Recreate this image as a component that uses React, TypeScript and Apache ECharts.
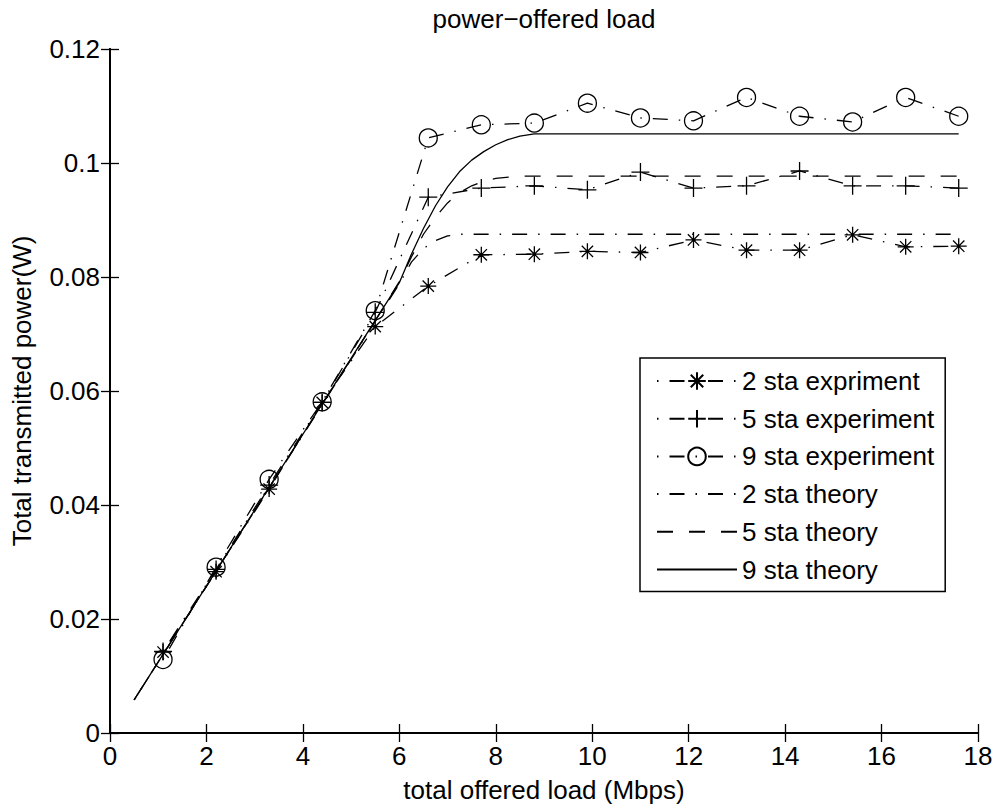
import React, { useEffect, useRef } from 'react';
import * as echarts from 'echarts';

// ---- data ----
const expLoad = [1.1, 2.2, 3.3, 4.4, 5.5, 6.6, 7.7, 8.8, 9.9, 11, 12.1, 13.2, 14.3, 15.4, 16.5, 17.6];
const sta2Exp = [0.0142, 0.0283, 0.0428, 0.058, 0.0713, 0.0784, 0.0839, 0.084, 0.0845, 0.0843, 0.0865, 0.0847, 0.0847, 0.0874, 0.0853, 0.0854];
const sta5Exp = [0.0143, 0.0287, 0.0435, 0.058, 0.0738, 0.094, 0.0956, 0.096, 0.0953, 0.0984, 0.0956, 0.096, 0.0986, 0.096, 0.096, 0.0956];
const sta9Exp = [0.0129, 0.0291, 0.0445, 0.0581, 0.0741, 0.1044, 0.1067, 0.107, 0.1105, 0.1079, 0.1074, 0.1115, 0.1082, 0.1072, 0.1115, 0.1082];

const theory2Load = [0.5, 5.5, 6.0, 6.25, 6.5, 6.75, 7.0, 7.25, 17.6];
const theory2Power = [0.0058, 0.0722, 0.0788, 0.0826, 0.085, 0.0864, 0.0872, 0.0875, 0.0875];
const theory5Load = [0.5, 5.5, 6.0, 6.25, 6.5, 6.75, 7.0, 7.25, 7.5, 7.75, 8.0, 8.5, 17.6];
const theory5Power = [0.0058, 0.0723, 0.0792, 0.0835, 0.0875, 0.0905, 0.093, 0.0948, 0.096, 0.0968, 0.0973, 0.0977, 0.0977];
const theory9Load = [0.5, 5.5, 6.0, 6.25, 6.5, 6.75, 7.0, 7.25, 7.5, 7.75, 8.0, 8.25, 8.5, 8.8, 17.6];
const theory9Power = [0.0058, 0.0724, 0.079, 0.084, 0.0885, 0.0925, 0.0958, 0.0985, 0.1005, 0.102, 0.1032, 0.1041, 0.1047, 0.1051, 0.1051];

const seriesNames = ['2 sta expriment', '5 sta experiment', '9 sta experiment', '2 sta theory', '5 sta theory', '9 sta theory'];
const xTickLabels = ['0', '2', '4', '6', '8', '10', '12', '14', '16', '18'];
const yTickLabels = ['0', '0.02', '0.04', '0.06', '0.08', '0.1', '0.12'];
const titleText = 'power\u2212offered load';
const xAxisTitle = 'total offered load (Mbps)';
const yAxisTitle = 'Total transmitted power(W)';

// ---- styles ----
const FONT = '"Liberation Sans", Arial, Helvetica, sans-serif';
const FS = 26;
const dashDot = [15, 11, 1.5, 11];
const dashed = [16, 16];
const plusPath = 'path://M0,-1L0,1M-1,0L1,0';
const starPath = 'path://M0,-1L0,1M-1,0L1,0M-0.7071,-0.7071L0.7071,0.7071M-0.7071,0.7071L0.7071,-0.7071';

const zip = (xs: number[], ys: number[]) => xs.map((x, i) => [x, ys[i]]);

function expSeries(name: string, xs: number[], ys: number[], symbol: string, size: number) {
  return {
    name,
    type: 'line',
    data: zip(xs, ys),
    symbol,
    symbolSize: size,
    showSymbol: true,
    lineStyle: { color: '#000', width: 1.3, type: dashDot, dashOffset: 26 },
    itemStyle: { color: 'transparent', borderColor: '#000', borderWidth: 1.3 },
    emphasis: { disabled: true },
    z: 3,
  };
}

function theorySeries(name: string, xs: number[], ys: number[], type: any, offset: number) {
  return {
    name,
    type: 'line',
    data: zip(xs, ys),
    symbol: 'circle',
    showSymbol: false,
    lineStyle: { color: '#000', width: 1.3, type, dashOffset: offset },
    itemStyle: { color: 'transparent', borderColor: 'transparent', borderWidth: 0 },
    emphasis: { disabled: true },
    z: 2,
  };
}

export default function App() {
  const ref = useRef<HTMLDivElement>(null);
  useEffect(() => {
    if (!ref.current) return;
    const chart = echarts.init(ref.current, null, { renderer: 'svg' });
    const axisLine = { show: true, lineStyle: { color: '#000', width: 2 } };
    const axisTick = { show: true, inside: true, length: 9, lineStyle: { color: '#000', width: 1.3 } };
    const labelStyle = { fontFamily: FONT, fontSize: FS, color: '#000' };
    chart.setOption({
      animation: false,
      backgroundColor: '#fff',
      grid: { left: 110, right: 20, top: 49, bottom: 75, containLabel: false },
      graphic: [
        {
          type: 'text',
          x: 544,
          y: 19,
          style: { text: titleText, fontFamily: FONT, fontSize: FS, fill: '#000', align: 'center', verticalAlign: 'middle' },
        },
      ],
      xAxis: [
        {
          type: 'value', min: 0, max: 18, interval: 2, position: 'bottom',
          axisLine, axisTick, splitLine: { show: false },
          axisLabel: { ...labelStyle, margin: 10, formatter: (v: number) => xTickLabels[Math.round(v / 2)] },
          name: xAxisTitle, nameLocation: 'middle', nameGap: 44,
          nameTextStyle: { fontFamily: FONT, fontSize: FS, color: '#000' },
        },
        {
          type: 'value', min: 0, max: 18, interval: 2, position: 'top',
          axisLine, axisTick, splitLine: { show: false }, axisLabel: { show: false },
        },
      ],
      yAxis: [
        {
          type: 'value', min: 0, max: 0.12, interval: 0.02, position: 'left',
          axisLine, axisTick, splitLine: { show: false },
          axisLabel: { ...labelStyle, margin: 10, formatter: (v: number) => yTickLabels[Math.round(v / 0.02)] },
          name: yAxisTitle, nameLocation: 'middle', nameGap: 75,
          nameTextStyle: { fontFamily: FONT, fontSize: FS, color: '#000' },
        },
        {
          type: 'value', min: 0, max: 0.12, interval: 0.02, position: 'right',
          axisLine, axisTick, splitLine: { show: false }, axisLabel: { show: false },
        },
      ],
      legend: {
        orient: 'vertical',
        left: 640,
        top: 358,
        padding: [10, 11, 9, 16],
        itemWidth: 80,
        itemHeight: 22,
        itemGap: 11.7,
        borderColor: '#000',
        borderWidth: 1.5,
        backgroundColor: '#fff',
        selectedMode: false,
        textStyle: { fontFamily: FONT, fontSize: FS, color: '#000' },
        data: seriesNames,
      },
      series: [
        expSeries(seriesNames[0], expLoad, sta2Exp, starPath, 16),
        expSeries(seriesNames[1], expLoad, sta5Exp, plusPath, 18),
        expSeries(seriesNames[2], expLoad, sta9Exp, 'circle', 18),
        theorySeries(seriesNames[3], theory2Load, theory2Power, dashDot, 26),
        theorySeries(seriesNames[4], theory5Load, theory5Power, dashed, 0),
        theorySeries(seriesNames[5], theory9Load, theory9Power, 'solid', 0),
      ],
    });
    return () => chart.dispose();
  }, []);
  return <div ref={ref} style={{ position: 'absolute', left: 0, top: 0, width: 998, height: 808 }} />;
}
